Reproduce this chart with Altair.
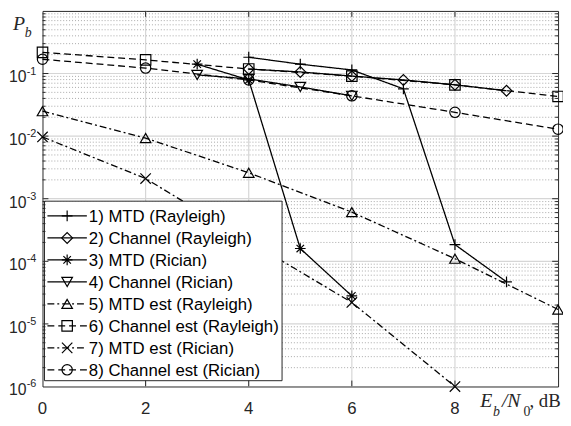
import altair as alt
import pandas as pd

# ---------------- data ----------------
labels = ["1) MTD (Rayleigh)", "2) Channel (Rayleigh)", "3) MTD (Rician)",
          "4) Channel (Rician)", "5) MTD est (Rayleigh)", "6) Channel est (Rayleigh)",
          "7) MTD est (Rician)", "8) Channel est (Rician)"]

x1 = [4, 5, 6, 7, 8, 9]
y1 = [0.182, 0.141, 0.114, 0.057, 1.85e-4, 4.7e-5]
x2 = [4, 5, 6, 7, 8, 9]
y2 = [0.118, 0.106, 0.091, 0.079, 0.066, 0.053]
x3 = [3, 4, 5, 6]
y3 = [0.141, 0.079, 1.6e-4, 2.8e-5]
x4 = [3, 4, 5, 6]
y4 = [0.095, 0.082, 0.061, 0.044]
x5 = [0, 2, 4, 6, 8, 10]
y5 = [0.025, 0.0093, 0.0026, 6.1e-4, 1.1e-4, 1.7e-5]
x6 = [0, 2, 4, 6, 8, 10]
y6 = [0.218, 0.165, 0.118, 0.091, 0.066, 0.043]
x7 = [0, 2, 4, 6, 8]
y7 = [0.0097, 0.0021, 2.1e-4, 2.2e-5, 1.0e-6]
x8 = [0, 2, 4, 6, 8, 10]
y8 = [0.169, 0.122, 0.079, 0.044, 0.024, 0.0129]

xtick_vals = [0, 2, 4, 6, 8]
xtick_text = ["0", "2", "4", "6", "8"]
ytick_vals = [1e-1, 1e-2, 1e-3, 1e-4, 1e-5, 1e-6]
ytick_sup = ["-1", "-2", "-3", "-4", "-5", "-6"]
xgrid_vals = [2, 4, 6, 8]
ydecades = [1e-5, 1e-4, 1e-3, 1e-2, 1e-1]
yminor = [m * 10.0 ** e for e in range(-6, 0) for m in range(2, 10)]

# ---------------- style ----------------
W, H = 523, 381
FR = "#262626"
SANS = "Liberation Sans"
SERIF = "Liberation Serif"

PLUS = "M-1,0L1,0M0,-1L0,1"
STAR = "M-1,0L1,0M0,-1L0,1M-0.7,-0.7L0.7,0.7M-0.7,0.7L0.7,-0.7"
XMARK = "M-1,-1L1,1M-1,1L1,-1"
shapes = [PLUS, "diamond", STAR, "triangle-down", "triangle-up", "square", XMARK, "circle"]
sizes = [120, 110, 120, 100, 100, 80, 70, 110]
dashes = [[1, 0], [1, 0], [1, 0], [1, 0], [7, 3, 2, 3], [7, 4], [7, 3, 2, 3], [7, 4]]

xs = alt.Scale(domain=[0, 10], nice=False, zero=False)
ys = alt.Scale(type="log", domain=[1e-6, 1], nice=False)

rows = []
for lab, xv, yv in zip(labels, [x1, x2, x3, x4, x5, x6, x7, x8],
                       [y1, y2, y3, y4, y5, y6, y7, y8]):
    for a, b in zip(xv, yv):
        rows.append({"series": lab, "x": a, "y": b})
df = pd.DataFrame(rows)

dash_enc = alt.StrokeDash("series:N", scale=alt.Scale(domain=labels, range=dashes), legend=None)
shape_enc = alt.Shape("series:N", scale=alt.Scale(domain=labels, range=shapes), legend=None)
size_enc = alt.Size("series:N", scale=alt.Scale(domain=labels, range=sizes), legend=None)

X = alt.X("x:Q", scale=xs, axis=None)
Y = alt.Y("y:Q", scale=ys, axis=None)

# grids
minor_df = pd.DataFrame({"v": yminor})
dec_df = pd.DataFrame({"v": ydecades})
xg_df = pd.DataFrame({"v": xgrid_vals})

minor_grid = alt.Chart(minor_df).mark_rule(color="#a8a8a8", strokeWidth=1, strokeDash=[1, 2]).encode(
    y=alt.Y("v:Q", scale=ys, axis=None), x=alt.value(0), x2=alt.value(W))
major_ygrid = alt.Chart(dec_df).mark_rule(color="#d6d6d6", strokeWidth=1.2).encode(
    y=alt.Y("v:Q", scale=ys, axis=None), x=alt.value(0), x2=alt.value(W))
major_xgrid = alt.Chart(xg_df).mark_rule(color="#d6d6d6", strokeWidth=1.2).encode(
    x=alt.X("v:Q", scale=xs, axis=None), y=alt.value(0), y2=alt.value(H))

lines = alt.Chart(df).mark_line(color="black", strokeWidth=1.3).encode(
    x=X, y=Y, strokeDash=dash_enc, detail="series:N")
points = alt.Chart(df).mark_point(filled=False, color="black", strokeWidth=1.2, opacity=1).encode(
    x=X, y=Y, shape=shape_enc, size=size_enc)

# legend
row_h = 22.3
first = 208
leg = pd.DataFrame({"series": labels, "ly": [first + i * row_h for i in range(len(labels))]})
box_top = first - 15
box_bot = first + (len(labels) - 1) * row_h + 11
leg_box = alt.Chart(pd.DataFrame({"a": [0]})).mark_rect(fill="white", stroke=FR, strokeWidth=1).encode(
    x=alt.value(2), x2=alt.value(243), y=alt.value(box_top), y2=alt.value(box_bot))
leg_lines = alt.Chart(leg).mark_rule(color="black", strokeWidth=1.3).encode(
    x=alt.value(5), x2=alt.value(45), y=alt.Y("ly:Q", scale=None, axis=None), strokeDash=dash_enc)
leg_pts = alt.Chart(leg).mark_point(filled=False, color="black", strokeWidth=1.2, opacity=1).encode(
    x=alt.value(25), y=alt.Y("ly:Q", scale=None, axis=None), shape=shape_enc, size=size_enc)
leg_txt = alt.Chart(leg).mark_text(align="left", baseline="middle", fontSize=17, font=SANS,
                                   color="black", dy=1).encode(
    x=alt.value(47), y=alt.Y("ly:Q", scale=None, axis=None), text="series:N")

# inward ticks
lt = alt.Chart(dec_df).mark_rule(color=FR, strokeWidth=1)
tick_l = lt.encode(y=alt.Y("v:Q", scale=ys, axis=None), x=alt.value(0), x2=alt.value(6))
tick_r = lt.encode(y=alt.Y("v:Q", scale=ys, axis=None), x=alt.value(W - 6), x2=alt.value(W))
mt = alt.Chart(minor_df).mark_rule(color=FR, strokeWidth=1)
mtick_l = mt.encode(y=alt.Y("v:Q", scale=ys, axis=None), x=alt.value(0), x2=alt.value(3))
mtick_r = mt.encode(y=alt.Y("v:Q", scale=ys, axis=None), x=alt.value(W - 3), x2=alt.value(W))
xt = alt.Chart(xg_df).mark_rule(color=FR, strokeWidth=1)
tick_b = xt.encode(x=alt.X("v:Q", scale=xs, axis=None), y=alt.value(H - 6), y2=alt.value(H))
tick_t = xt.encode(x=alt.X("v:Q", scale=xs, axis=None), y=alt.value(0), y2=alt.value(6))

# tick labels
yl_df = pd.DataFrame({"v": ytick_vals, "sup": ytick_sup})
ylab_10 = alt.Chart(yl_df).mark_text(align="left", baseline="alphabetic", fontSize=16, font=SANS,
                                     color=FR, dy=9, text="10").encode(
    y=alt.Y("v:Q", scale=ys, axis=None), x=alt.value(-34))
ylab_sup = alt.Chart(yl_df).mark_text(align="left", baseline="alphabetic", fontSize=11, font=SANS,
                                      color=FR, dy=1).encode(
    y=alt.Y("v:Q", scale=ys, axis=None), x=alt.value(-16), text="sup:N")
xl_df = pd.DataFrame({"v": xtick_vals, "t": xtick_text})
xlab = alt.Chart(xl_df).mark_text(align="center", baseline="alphabetic", fontSize=17, font=SANS,
                                  color=FR).encode(
    x=alt.X("v:Q", scale=xs, axis=None), y=alt.value(H + 28), text="t:N")

# axis titles (P_b and E_b/N_0, dB)
def txt(parts, size, style):
    d = pd.DataFrame(parts, columns=["t", "px", "py"])
    return alt.Chart(d).mark_text(align="left", baseline="alphabetic", fontSize=size, font=SERIF,
                                  fontStyle=style, color=FR).encode(
        x=alt.X("px:Q", scale=None, axis=None), y=alt.Y("py:Q", scale=None, axis=None), text="t:N")

t_big_it = txt([("P", -30, 19), ("E", 444, 402), ("/N", 466, 402)], 20, "italic")
t_small_it = txt([("b", -18, 26), ("b", 457, 411)], 14, "italic")
t_small = txt([("0", 488, 411)], 14, "normal")
t_big = txt([(", dB", 494, 402)], 19, "normal")

chart = alt.layer(
    minor_grid, major_ygrid, major_xgrid, lines, points,
    leg_box, leg_lines, leg_pts, leg_txt,
    tick_l, tick_r, mtick_l, mtick_r, tick_b, tick_t,
    ylab_10, ylab_sup, xlab, t_big_it, t_small_it, t_small, t_big
).properties(
    width=W, height=H,
    autosize=alt.AutoSizeParams(type="none"),
    padding={"left": 35, "top": 0, "right": 5, "bottom": 30},
    background="white"
).configure_view(stroke=FR, strokeWidth=1)

chart.save("out.html", embed_options={"renderer": "svg", "actions": False})
